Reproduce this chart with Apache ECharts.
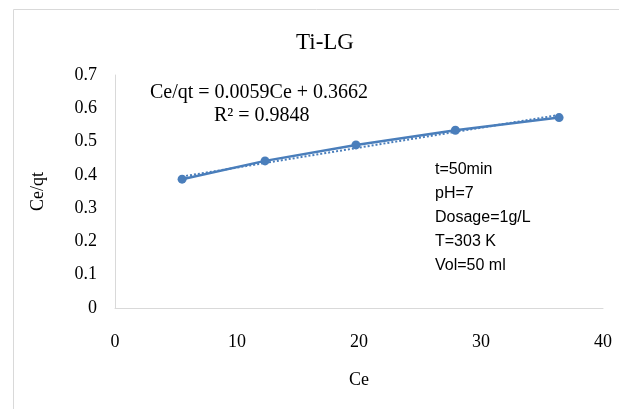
<!DOCTYPE html>
<html>
<head>
<meta charset="utf-8">
<script src="https://cdn.jsdelivr.net/npm/echarts@6/dist/echarts.min.js"></script>
<style>
  html, body { margin: 0; padding: 0; background: #fff; }
  #chart { width: 619px; height: 409px; }
</style>
</head>
<body>
<div id="chart"></div>
<script>
// measured points
const ceValues = [5.5, 12.3, 19.75, 27.9, 36.4];
const ceqtValues = [0.387, 0.442, 0.490, 0.534, 0.572];
// linear trendline ends
const trendCe = [5.5, 36.4];
const trendCeqt = [0.395, 0.580];
const xTicks = [0, 10, 20, 30, 40];
const yTicks = [0, 0.1, 0.2, 0.3, 0.4, 0.5, 0.6, 0.7];
const noteLines = ['t=50min', 'pH=7', 'Dosage=1g/L', 'T=303 K', 'Vol=50 ml'];

const blue = '#4a7ebb';
const serif = '"Liberation Serif", "Times New Roman", serif';
const sans = '"Liberation Sans", Arial, sans-serif';

let chart = echarts.init(document.getElementById('chart'), null, { renderer: 'canvas' });

let noteText = noteLines.map(function (t, i) {
  return {
    type: 'text',
    left: 435,
    top: 162 + i * 24,
    style: { text: t, font: '16px ' + sans, fill: '#000' }
  };
});

chart.setOption({
  animation: false,
  title: {
    text: 'Ti-LG',
    left: 291,
    top: 26,
    textStyle: { fontFamily: serif, fontSize: 23, fontWeight: 'normal', color: '#000' }
  },
  grid: { left: 115, right: 16, top: 75, bottom: 101 },
  xAxis: {
    type: 'value',
    min: xTicks[0],
    max: xTicks[xTicks.length - 1],
    interval: 10,
    name: 'Ce',
    nameLocation: 'middle',
    nameGap: 63,
    nameTextStyle: { fontFamily: serif, fontSize: 18, color: '#000' },
    axisLine: { show: true, lineStyle: { color: '#d9d9d9', width: 1 } },
    axisTick: { show: false },
    splitLine: { show: false },
    axisLabel: { margin: 25, fontFamily: serif, fontSize: 18, color: '#000' }
  },
  yAxis: {
    type: 'value',
    min: yTicks[0],
    max: yTicks[yTicks.length - 1],
    interval: 0.1,
    name: 'Ce/qt',
    nameLocation: 'middle',
    nameGap: 68,
    nameTextStyle: { fontFamily: serif, fontSize: 18, color: '#000' },
    axisLine: { show: true, lineStyle: { color: '#d9d9d9', width: 1 } },
    axisTick: { show: false },
    splitLine: { show: false },
    axisLabel: {
      margin: 18,
      fontFamily: serif,
      fontSize: 18,
      color: '#000',
      formatter: function (v) { return String(Math.round(v * 10) / 10); }
    }
  },
  series: [
    {
      name: 'trend',
      type: 'line',
      data: trendCe.map(function (x, i) { return [x, trendCeqt[i]]; }),
      showSymbol: false,
      symbol: 'none',
      lineStyle: { color: blue, width: 2, type: [2, 2] },
      z: 1
    },
    {
      name: 'Ce/qt',
      type: 'line',
      data: ceValues.map(function (x, i) { return [x, ceqtValues[i]]; }),
      symbol: 'circle',
      symbolSize: 9,
      itemStyle: { color: blue },
      lineStyle: { color: blue, width: 2.5 },
      z: 2
    }
  ],
  graphic: [
    {
      type: 'rect',
      left: 11,
      top: 7,
      shape: { width: 640, height: 420 },
      style: { fill: 'none', stroke: '#d9d9d9', lineWidth: 1 },
      z: -1
    },
    {
      type: 'text',
      left: 150,
      top: 83,
      style: { text: 'Ce/qt = 0.0059Ce + 0.3662', font: '20px ' + serif, fill: '#000' }
    },
    {
      type: 'text',
      left: 214,
      top: 106,
      style: { text: 'R² = 0.9848', font: '20px ' + serif, fill: '#000' }
    }
  ].concat(noteText)
});
</script>
</body>
</html>
